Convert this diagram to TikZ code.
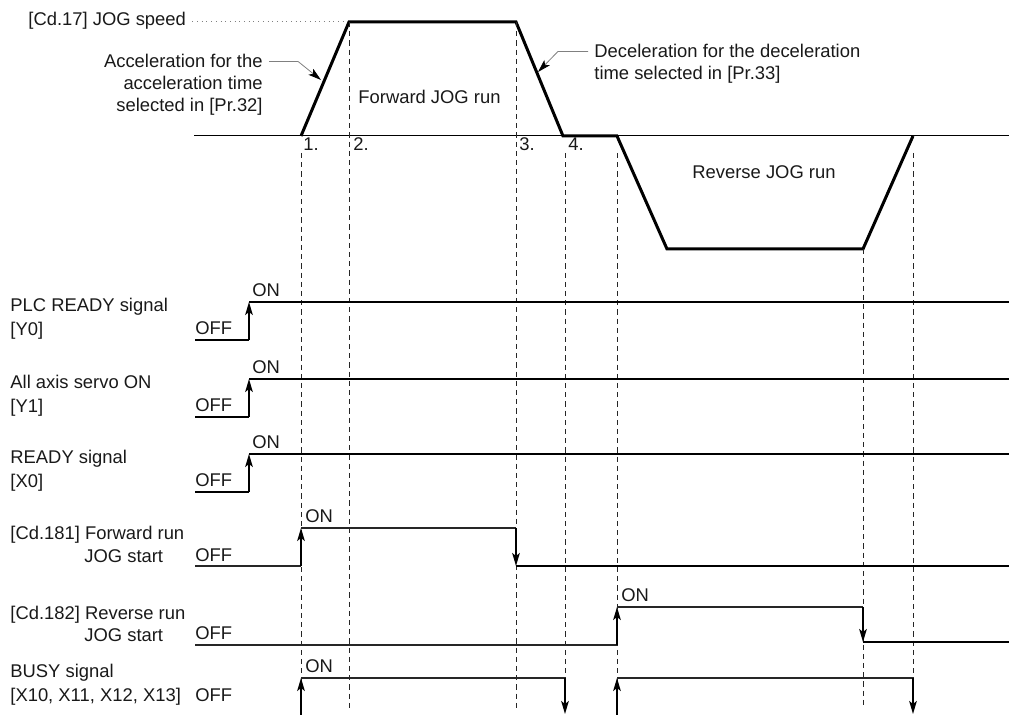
\documentclass[tikz,border=0pt]{standalone}
\usepackage{fontspec}
\setmainfont{Liberation Sans}
\usetikzlibrary{arrows.meta}

\begin{document}
\begin{tikzpicture}[x=0.5pt, y=-0.5pt,
        txt/.style={font=\fontsize{9.2}{11}\selectfont, text=black!90, inner sep=0pt, anchor=base west},
        txtr/.style={txt, anchor=base east},
        guide/.style={black!85, line width=0.45pt, dash pattern=on 2.6pt off 2pt},
        sig/.style={line width=1pt},
        thinsig/.style={line width=0.8pt, black!85},
        edge/.style={line width=0.8pt, -{Stealth[length=6.5pt,width=3.8pt,inset=1.5pt]}},
        leader/.style={gray, line width=0.4pt, -{Stealth[length=6.5pt,width=3.8pt,inset=1.5pt,color=black]}}]
        \useasboundingbox (0,0) rectangle (1009,715);
        % ── speed profile ──────────────────────────
        \coordinate (p1) at (301,136);
        \coordinate (p2) at (349,22);
        \coordinate (p3) at (516,22);
        \coordinate (p4) at (563,136);
        \coordinate (p5) at (617,136);
        \coordinate (p6) at (667,249);
        \coordinate (p7) at (863,249);
        \coordinate (p8) at (913,136);
        \draw[line width=0.5pt] (194,136) -- (1009,136);
        \draw[line width=1.5pt] (p1) -- (p2) -- (p3) -- (p4) -- (p5) -- (p6) -- (p7) -- (p8);
        \draw[guide] (301,153) -- (301,708);
        \draw[guide] (p2) -- (349,708);
        \draw[guide] (p3) -- (516,708);
        \draw[guide] (565,153) -- (565,708);
        \draw[guide] (617,153) -- (617,708);
        \draw[guide] (p7) -- (863,708);
        \draw[guide] (913,153) -- (913,708);
        \node[txt] (spd) at (28,26) {[Cd.17] JOG speed};
        \draw[gray, line width=0.35pt, dotted] ([xshift=3pt]spd.east) -- (spd.east -| p2);
        \node[txtr] (acc1) at (263,68) {Acceleration for the};
        \node[txtr] (acc2) at (263,90) {acceleration time};
        \node[txtr] (acc3) at (263,112) {selected in [Pr.32]};
        \coordinate (acctip) at (321,80);
        \draw[leader] ([xshift=3pt]acc1.east) -- ++(29,0) -- (acctip);
        \node[txt] (dec1) at (594,58) {Deceleration for the deceleration};
        \node[txt] (dec2) at (594,80) {time selected in [Pr.33]};
        \coordinate (dectip) at (538,72);
        \draw[leader] ([xshift=-3pt]dec1.west) -- ++(-30,0) -- (dectip);
        \node[txt] (fwdrun) at (358,104) {Forward JOG run};
        \node[txt] (revrun) at (692,179) {Reverse JOG run};
        \node[txt] (t1) at (303,151) {1.};
        \node[txt] (t2) at (353,151) {2.};
        \node[txt] (t3) at (519,151) {3.};
        \node[txt] (t4) at (568,151) {4.};
        % ── PLC READY signal [Y0] ──────────────────────────
        \node[txt] (plc1) at (10,312) {PLC READY signal};
        \node[txt] (plc2) at (10,336) {[Y0]};
        \node[txt] (plcoff) at (195,335) {OFF};
        \node[txt] (plcon) at (252,297) {ON};
        \draw[sig] (195,340) -- (249,340);
        \draw[edge] (249,340) -- (249,302);
        \draw[sig] (249,302) -- (1009,302);
        % ── All axis servo ON [Y1] ──────────────────────────
        \node[txt] (srv1) at (10,389) {All axis servo ON};
        \node[txt] (srv2) at (10,413) {[Y1]};
        \node[txt] (srvoff) at (195,412) {OFF};
        \node[txt] (srvon) at (252,374) {ON};
        \draw[sig] (195,417) -- (249,417);
        \draw[edge] (249,417) -- (249,379);
        \draw[sig] (249,379) -- (1009,379);
        % ── READY signal [X0] ──────────────────────────
        \node[txt] (rdy1) at (10,464) {READY signal};
        \node[txt] (rdy2) at (10,488) {[X0]};
        \node[txt] (rdyoff) at (195,487) {OFF};
        \node[txt] (rdyon) at (252,449) {ON};
        \draw[sig] (195,492) -- (249,492);
        \draw[edge] (249,492) -- (249,454);
        \draw[sig] (249,454) -- (1009,454);
        % ── [Cd.181] Forward run JOG start ──────────────────────────
        \node[txt] (fwd1) at (10,540) {[Cd.181] Forward run};
        \node[txt] (fwd2) at (84,563) {JOG start};
        \node[txt] (fwdoff) at (195,562) {OFF};
        \node[txt] (fwdon) at (305,523) {ON};
        \draw[thinsig] (195,566) -- (301,566);
        \draw[edge] (301,566) -- (301,528);
        \draw[thinsig] (301,528) -- (516,528);
        \draw[edge] (516,528) -- (516,566);
        \draw[sig] (516,566) -- (1009,566);
        % ── [Cd.182] Reverse run JOG start ──────────────────────────
        \node[txt] (rev1) at (10,620) {[Cd.182] Reverse run};
        \node[txt] (rev2) at (84,642) {JOG start};
        \node[txt] (revoff) at (195,640) {OFF};
        \node[txt] (revon) at (621,602) {ON};
        \draw[thinsig] (195,645) -- (617,645);
        \draw[edge] (617,645) -- (617,607);
        \draw[thinsig] (617,607) -- (863,607);
        \draw[edge] (863,607) -- (863,642);
        \draw[sig] (863,642) -- (1009,642);
        % ── BUSY signal ──────────────────────────
        \node[txt] (busy1) at (10,678) {BUSY signal};
        \node[txt] (busy2) at (10,702) {[X10, X11, X12, X13]};
        \node[txt] (busyoff) at (195,702) {OFF};
        \node[txt] (busyon) at (305,673) {ON};
        \draw[edge] (301,715) -- (301,678);
        \draw[thinsig] (301,678) -- (565,678);
        \draw[edge] (565,678) -- (565,714);
        \draw[edge] (617,715) -- (617,678);
        \draw[thinsig] (617,678) -- (913,678);
        \draw[edge] (913,678) -- (913,714);
    \end{tikzpicture}
\end{document}
